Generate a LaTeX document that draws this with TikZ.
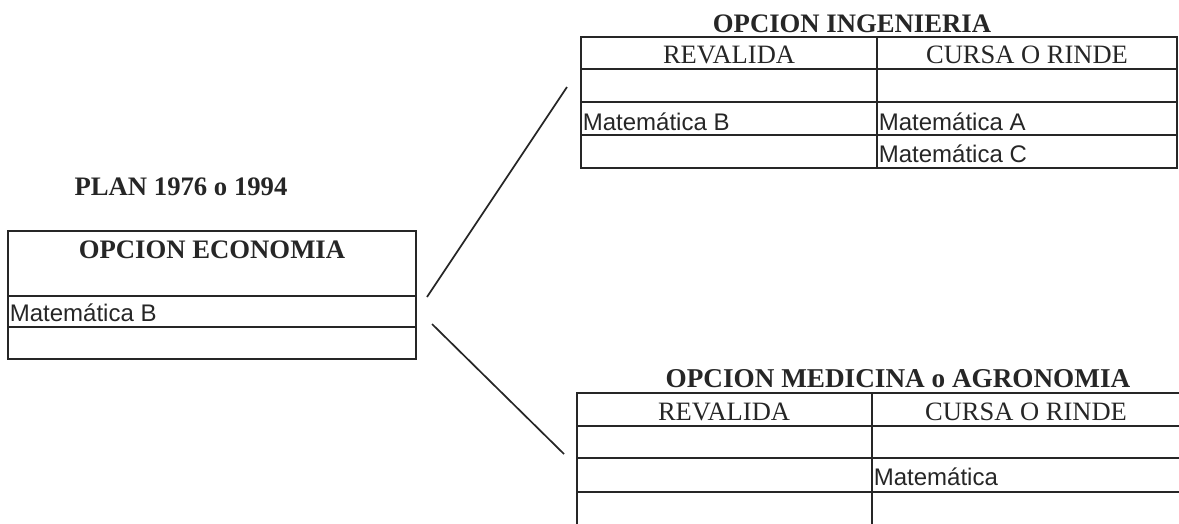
\documentclass[tikz,border=0pt]{standalone}
\usepackage{fontspec}
\setmainfont{Liberation Serif}
\newfontfamily\arial{Liberation Sans}
\newcommand{\titulo}{\fontsize{26.7}{30}\selectfont\bfseries}
\newcommand{\cabeza}{\fontsize{26.5}{30}\selectfont}
\newcommand{\materia}{\arial\fontsize{24}{28}\selectfont}
\newcommand{\filas}[3]
{
	\foreach \f in {#3} \draw (#1,\f) -- (#2,\f);
}
\tikzset{tabla/.style={draw,inner sep=0pt}, txt/.style={inner sep=0pt}}

\begin{document}
\begin{tikzpicture}[x=1pt,y=-1pt,line width=1.7pt,color=black!85]
	\useasboundingbox (0,0) rectangle (1179,523);
	% plan de la izquierda
	\node[txt,anchor=base] (plan) at (181,195) {\titulo PLAN 1976 o 1994};
	\node[tabla,minimum width=408pt,minimum height=128pt] (eco) at (212,295) {};
	\filas{8}{416}{296,327}
	\node[txt,anchor=base] (ecot) at (212,258) {\titulo OPCION ECONOMIA};
	\node[txt,anchor=base west] (ecom) at (9,321) {\materia Matemática B};
	% ingenieria
	\node[txt,anchor=base] (ingt) at (852,32) {\titulo OPCION INGENIERIA};
	\node[tabla,minimum width=596pt,minimum height=131pt] (ing) at (879,102.5) {};
	\filas{581}{1177}{69,102,135}
	\draw (877,37) -- (877,168);
	\node[txt,anchor=base] (ingr) at (729,63) {\cabeza REVALIDA};
	\node[txt,anchor=base] (ingc) at (1027,63) {\cabeza CURSA O RINDE};
	\node[txt,anchor=base west] (ingb) at (582,130) {\materia Matemática B};
	\node[txt,anchor=base west] (inga) at (878,130) {\materia Matemática A};
	\node[txt,anchor=base west] (ingc2) at (878,162) {\materia Matemática C};
	% medicina o agronomia
	\node[txt,anchor=base] (medt) at (898,387) {\fontsize{27.2}{30}\selectfont\bfseries OPCION MEDICINA o AGRONOMIA};
	\node[tabla,minimum width=604pt,minimum height=133pt] (med) at (879,459.5) {};
	\filas{577}{1181}{426,458,492}
	\draw (872,393) -- (872,526);
	\node[txt,anchor=base] (medr) at (724,420) {\cabeza REVALIDA};
	\node[txt,anchor=base] (medc) at (1026,420) {\cabeza CURSA O RINDE};
	\node[txt,anchor=base west] (medm) at (873,485) {\materia Matemática};
	% lineas entre tablas
	\coordinate (e1) at (427,297);
	\coordinate (i1) at (567,87);
	\coordinate (e2) at (432,324);
	\coordinate (m1) at (564,454);
	\draw (e1) -- (i1);
	\draw (e2) -- (m1);
\end{tikzpicture}
\end{document}
